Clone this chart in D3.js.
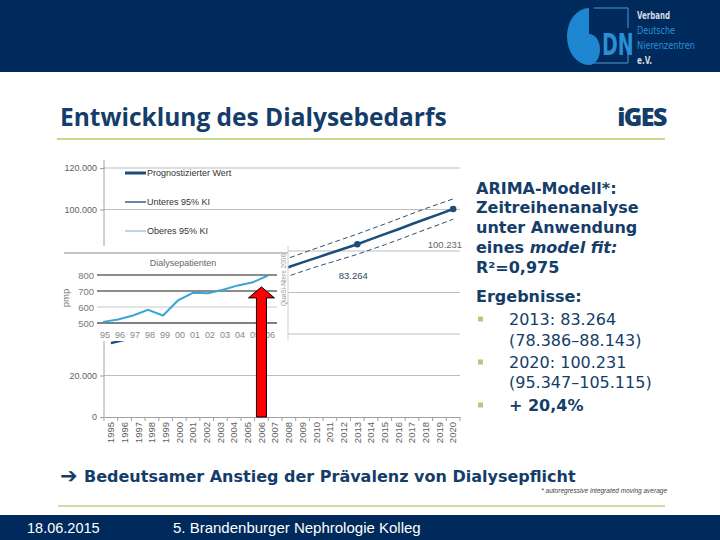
<!DOCTYPE html>
<html><head><meta charset="utf-8">
<script src="https://cdn.jsdelivr.net/npm/d3@7"></script>
<style>body{margin:0;background:#fff}svg{display:block}</style>
</head><body><svg id="c" width="720" height="540"></svg>
<script>
// ---------- data ----------
const years = ["1995","1996","1997","1998","1999","2000","2001","2002","2003","2004","2005","2006","2007","2008","2009","2010","2011","2012","2013","2014","2015","2016","2017","2018","2019","2020"];
const yTicks = [0,20000,40000,60000,80000,100000,120000];
const yTicksHiddenByInset = [40000,60000,80000];
const forecast = [35600,37200,40000,42800,45500,48500,52000,55500,58800,62000,65200,68000,70200,72300,74500,76700,78900,81100,83264,85700,88100,90500,93000,95400,97800,100231];
const ciYears = ["2007","2008","2009","2010","2011","2012","2013","2014","2015","2016","2017","2018","2019","2020"];
const ciLower = [66400,68000,70200,72400,74400,76400,78386,80700,83000,85400,87900,90400,92800,95347];
const ciUpper = [73900,76600,79000,81300,83600,85900,88143,90600,93000,95500,98000,100500,102800,105115];
const markedYears = ["2013","2020"];
const markedValues = [83264,100231];
const markedLabels = ["83.264","100.231"];
const legendLabels = ["Prognostizierter Wert","Unteres 95% KI","Oberes 95% KI"];
const insetYears = ["95","96","97","98","99","00","01","02","03","04","05","06"];
const insetPmp = [507,522,547,583,547,641,689,686,708,735,755,797];
const insetTicks = [500,600,700,800];
const arrowYear = "2006";
const arrowValue = 62700;

const navy = "#002a5b", textNavy = "#143d69", lineNavy = "#1d4d7b";
const svg = d3.select("#c");
const de = d3.formatLocale({decimal:",", thousands:".", grouping:[3], currency:["","€"]});
const fmt = de.format(",");

// ---------- header / footer ----------
svg.append("rect").attr("x",0).attr("y",0).attr("width",720).attr("height",72).attr("fill",navy);
svg.append("rect").attr("x",0).attr("y",515).attr("width",720).attr("height",25).attr("fill",navy);
svg.append("text").attr("x",27).attr("y",533).attr("fill","#fff").attr("font-family","Liberation Sans, Arial").attr("font-size",14.5).text("18.06.2015");
svg.append("text").attr("x",173).attr("y",533).attr("fill","#fff").attr("font-family","Liberation Sans, Arial").attr("font-size",15).text("5. Brandenburger Nephrologie Kolleg");

// logo
const logo = svg.append("g");
logo.append("path").attr("d","M589,8 A22,28.5 0 0 0 589,65 Z").attr("fill","#1e86d0");
logo.append("path").attr("d","M589,34 A11,15.5 0 0 1 589,65 Z").attr("fill","#1e86d0");
logo.append("path").attr("d","M594,8 H628 V28 M594,63 H628 V52").attr("fill","none").attr("stroke","#4e98d4").attr("stroke-width",1);
logo.append("text").attr("transform","translate(602,55) scale(0.68,1)").attr("font-family","DejaVu Sans Condensed, DejaVu Sans").attr("font-weight","bold").attr("font-size",31).attr("fill","#2a8fd6").text("DN");
const logoTxt = [["Verband",19,"#d4dbe6",33,"bold"],["Deutsche",34,"#2a8fd6",38,"normal"],["Nierenzentren",49,"#2a8fd6",58,"normal"],["e.V.",64,"#d4dbe6",15,"bold"]];
logo.selectAll("text.l").data(logoTxt).join("text").attr("class","l").attr("x",637).attr("y",d=>d[1]).attr("fill",d=>d[2])
  .attr("font-family","DejaVu Sans Condensed, DejaVu Sans").attr("font-weight",d=>d[4]).attr("font-size",10)
  .attr("textLength",d=>d[3]).attr("lengthAdjust","spacingAndGlyphs").text(d=>d[0]);

// title
svg.append("text").attr("x",60).attr("y",126).attr("font-family","Open Sans").attr("font-weight",700).attr("font-size",24.5).attr("fill",textNavy).text("Entwicklung des Dialysebedarfs");
svg.append("text").attr("x",666).attr("y",126).attr("text-anchor","end").attr("font-family","Open Sans").attr("font-weight",800).attr("font-size",25).attr("letter-spacing",-1.5).attr("fill",textNavy).text("iGES");
svg.append("line").attr("x1",57).attr("x2",665).attr("y1",139).attr("y2",139).attr("stroke","#c9d98e").attr("stroke-width",2);

// ---------- main chart ----------
const x = d3.scaleBand().domain(years).range([104,460]).padding(0);
const y = d3.scaleLinear().domain([0,120000]).range([417,168]);
const cx = d => x(d) + x.bandwidth()/2;
const main = svg.append("g");
main.selectAll("line.grid").data(yTicks.filter(t=>t>0)).join("line").attr("class","grid")
  .attr("x1",104).attr("x2",460).attr("y1",d=>y(d)).attr("y2",d=>y(d)).attr("stroke","#bdbdbd").attr("stroke-width",1);
const yAxis = main.append("g").attr("transform","translate(104,0)")
  .call(d3.axisLeft(y).tickValues(yTicks).tickFormat(d=>yTicksHiddenByInset.includes(d)?"":fmt(d)).tickSize(4).tickPadding(3));
yAxis.select(".domain").attr("stroke","#a0a0a0").attr("d","M0,160V417");
yAxis.selectAll(".tick line").attr("stroke","#a0a0a0");
yAxis.selectAll("text").attr("font-family","Liberation Sans, Arial").attr("font-size",9).attr("fill","#606060");
const xAxis = main.append("g").attr("transform","translate(0,417)").call(d3.axisBottom(x).tickSize(0).tickPadding(0));
xAxis.select(".domain").attr("stroke","#a0a0a0");
xAxis.selectAll(".tick text").attr("transform","rotate(-90)").attr("text-anchor","end").attr("x",-5).attr("y",0).attr("dy","0.35em")
  .attr("font-family","Liberation Sans, Arial").attr("font-size",9.5).attr("fill","#606060");
main.selectAll("line.xt").data(years.concat(["end"])).join("line").attr("class","xt")
  .attr("x1",(d,i)=>104+i*x.bandwidth()).attr("x2",(d,i)=>104+i*x.bandwidth()).attr("y1",417).attr("y2",421).attr("stroke","#a0a0a0");

const line = d3.line().x(d=>cx(d[0])).y(d=>y(d[1]));
main.append("path").datum(ciYears.map((d,i)=>[d,ciUpper[i]])).attr("d",line).attr("fill","none").attr("stroke","#2f4f70").attr("stroke-width",1).attr("stroke-dasharray","5,3");
main.append("path").datum(ciYears.map((d,i)=>[d,ciLower[i]])).attr("d",line).attr("fill","none").attr("stroke","#2f4f70").attr("stroke-width",1).attr("stroke-dasharray","5,3");
main.append("path").datum(years.map((d,i)=>[d,forecast[i]])).attr("d",line).attr("fill","none").attr("stroke",lineNavy).attr("stroke-width",2.5);
main.selectAll("circle.m").data(markedYears.map((d,i)=>[d,markedValues[i]])).join("circle").attr("class","m")
  .attr("cx",d=>cx(d[0])).attr("cy",d=>y(d[1])).attr("r",3.3).attr("fill",lineNavy);
main.append("text").attr("x",cx(markedYears[0])-4).attr("y",y(markedValues[0])+35).attr("text-anchor","middle")
  .attr("font-family","Liberation Sans, Arial").attr("font-size",9.5).attr("fill","#2c4866").text(markedLabels[0]);
main.append("text").attr("x",cx(markedYears[1])+9).attr("y",y(markedValues[1])+39).attr("text-anchor","end")
  .attr("font-family","Liberation Sans, Arial").attr("font-size",9.5).attr("fill","#666").text(markedLabels[1]);

// legend
const legStyles = [[lineNavy,3],["#1d4670",1.3],["#7ea8c8",1]];
const leg = main.selectAll("g.leg").data(legendLabels).join("g").attr("class","leg").attr("transform",(d,i)=>`translate(125,${173+i*29})`);
leg.append("line").attr("x1",0).attr("x2",21).attr("stroke",(d,i)=>legStyles[i][0]).attr("stroke-width",(d,i)=>legStyles[i][1]);
leg.append("text").attr("x",22).attr("y",3).attr("font-family","Liberation Sans, Arial").attr("font-size",9).attr("fill","#333").text(d=>d);

// ---------- inset ----------
const inset = svg.append("g");
inset.append("rect").attr("x",58).attr("y",246).attr("width",230).attr("height",95).attr("fill","#fff");
inset.append("line").attr("x1",64).attr("x2",288).attr("y1",253).attr("y2",253).attr("stroke","#8a8a8a").attr("stroke-width",1);
inset.append("line").attr("x1",288).attr("x2",288).attr("y1",246).attr("y2",341).attr("stroke","#d0d0d0").attr("stroke-width",1);
const ix = d3.scalePoint().domain(insetYears).range([103,268]);
const iy = d3.scaleLinear().domain([500,800]).range([323,275]);
const gStyle = {500:["#555",1.5],600:["#c8c8c8",1],700:["#8c8c8c",2],800:["#8c8c8c",2]};
inset.selectAll("line.ig").data(insetTicks).join("line").attr("class","ig").attr("x1",97).attr("x2",277)
  .attr("y1",d=>iy(d)).attr("y2",d=>iy(d)).attr("stroke",d=>gStyle[d][0]).attr("stroke-width",d=>gStyle[d][1]);
inset.selectAll("text.iyl").data(insetTicks).join("text").attr("class","iyl").attr("x",94).attr("y",d=>iy(d)+3.5).attr("text-anchor","end")
  .attr("font-family","Liberation Sans, Arial").attr("font-size",9.5).attr("fill","#777").text(d=>d);
inset.selectAll("text.ixl").data(insetYears).join("text").attr("class","ixl").attr("x",d=>ix(d)+2).attr("y",338).attr("text-anchor","middle")
  .attr("font-family","Liberation Sans, Arial").attr("font-size",9).attr("fill","#888").text(d=>d);
inset.append("text").attr("transform","translate(69,298) rotate(-90)").attr("text-anchor","middle")
  .attr("font-family","Liberation Sans, Arial").attr("font-size",9.5).attr("fill","#777").text("pmp");
inset.append("text").attr("x",183).attr("y",266).attr("text-anchor","middle")
  .attr("font-family","Liberation Sans, Arial").attr("font-size",9).attr("fill","#666").text("Dialysepatienten");
inset.append("text").attr("transform","translate(286,280) rotate(-90)").attr("text-anchor","middle")
  .attr("font-family","Liberation Sans, Arial").attr("font-size",6.5).attr("fill","#999").text("QuaSi-Niere 2006");
inset.append("path").datum(insetYears.map((d,i)=>[d,insetPmp[i]]))
  .attr("d",d3.line().x(d=>ix(d[0])).y(d=>iy(d[1]))).attr("fill","none").attr("stroke","#3aa6d6").attr("stroke-width",2);

// ---------- red arrow ----------
const ax = cx(arrowYear), ay = y(arrowValue), ab = y(0);
svg.append("path").attr("d",`M${ax},${ay} L${ax+13},${ay+11} L${ax+5},${ay+11} L${ax+5},${ab} L${ax-5},${ab} L${ax-5},${ay+11} L${ax-13},${ay+11} Z`)
  .attr("fill","#ff0000").attr("stroke","#000").attr("stroke-width",1);

// ---------- right text panel ----------
const rt = svg.append("g").attr("font-family","DejaVu Sans, Verdana").attr("font-size",16).attr("fill",textNavy);
const boldLines = [["ARIMA-Modell*:",194],["Zeitreihenanalyse",213],["unter Anwendung",233],["R²=0,975",273],["Ergebnisse:",302]];
rt.selectAll("text.b").data(boldLines).join("text").attr("class","b").attr("x",476).attr("y",d=>d[1]).attr("font-weight","bold").text(d=>d[0]);
const l4 = rt.append("text").attr("x",476).attr("y",253).attr("font-weight","bold");
l4.append("tspan").text("eines ");
l4.append("tspan").attr("font-style","italic").text("model fit:");
const resLines = [["2013: 83.264",325,false],["(78.386–88.143)",346,false],["2020: 100.231",368,false],["(95.347–105.115)",388,false],["+ 20,4%",411,true]];
rt.selectAll("text.r").data(resLines).join("text").attr("class","r").attr("x",509).attr("y",d=>d[1]).attr("font-weight",d=>d[2]?"bold":"normal").text(d=>d[0]);
rt.selectAll("rect.bul").data([319,362,405]).join("rect").attr("class","bul").attr("x",478).attr("y",d=>d-2.5).attr("width",5).attr("height",5).attr("fill","#b9c97c");

// ---------- bottom statement ----------
svg.append("text").attr("x",60).attr("y",483).attr("font-family","DejaVu Sans").attr("font-weight","bold").attr("font-size",21).attr("fill",textNavy).text("➔");
svg.append("text").attr("x",84).attr("y",482).attr("font-family","DejaVu Sans, Verdana").attr("font-weight","bold").attr("font-size",16).attr("fill",textNavy).text("Bedeutsamer Anstieg der Prävalenz von Dialysepflicht");
svg.append("text").attr("x",667).attr("y",493).attr("text-anchor","end").attr("font-family","Liberation Sans, Arial").attr("font-style","italic").attr("font-size",6.5).attr("fill","#444").text("* autoregressive integrated  moving  average");
svg.append("line").attr("x1",58).attr("x2",665).attr("y1",506).attr("y2",506).attr("stroke","#d3dca8").attr("stroke-width",2);
</script></body></html>
